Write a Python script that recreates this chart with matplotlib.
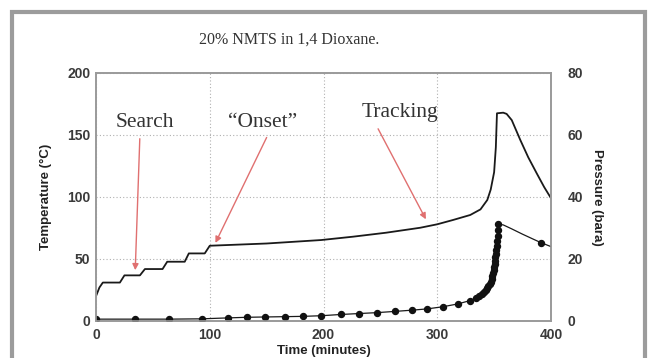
import matplotlib
matplotlib.use("Agg")
import matplotlib.pyplot as plt
from matplotlib.patches import Rectangle

# temperature (left axis, degC)
time_temp = [0, 3, 6, 21, 25, 38.6, 43, 58.5, 62.6, 78, 81.6, 95.6, 100, 150, 198, 226,
             255, 285, 300, 314, 329, 338, 344, 347, 350, 351.5, 352.5, 358, 361, 365.5,
             373, 380, 387.5, 394, 400]
temperature = [20, 27, 31, 31, 36.8, 36.8, 41.9, 41.9, 47.8, 47.8, 54.5, 54.5, 60.7, 62.5, 65.3, 68,
               71.2, 75.2, 78, 81.5, 85.5, 90, 97.6, 106, 120, 140, 167.5, 168, 167, 162,
               146, 132, 119, 108, 99]

# pressure (right axis, bara)
time_pres = [0, 34, 64, 93, 116, 133, 149, 166, 182, 198, 215, 231, 247, 263, 278, 291, 305,
             318, 329, 334, 337, 339, 341, 342.5, 344, 345, 346, 347, 347.8, 348.5, 349,
             349.5, 350, 350.4, 350.8, 351.2, 351.6, 352, 352.4, 352.8, 353.2, 353.6, 353.8,
             358, 365, 375, 385, 391, 400]
pressure = [0.6, 0.6, 0.6, 0.7, 1.0, 1.2, 1.3, 1.4, 1.5, 1.7, 2.1, 2.4, 2.7, 3.1, 3.5, 3.9, 4.6,
            5.5, 6.6, 7.4, 8.2, 8.8, 9.4, 10, 10.6, 11.2, 11.8, 12.6, 13.5, 14.5, 15.5,
            16.5, 17.5, 18.5, 19.5, 20.5, 21.5, 22.8, 24.2, 25.8, 27.5, 29.5, 31.2,
            31, 29.8, 28, 26.3, 25.3, 24]
# samples drawn with a dot marker (indices into the pressure arrays)
dot_idx = list(range(0, 43)) + [47]

# annotations: text, text position, arrow head
labels = ["Search", "\u201cOnset\u201d", "Tracking"]
label_xy = [(43, 160), (146, 160), (267, 168)]
arrow_tail = [(38.5, 147), (150, 148), (248, 155)]
arrow_head = [(34.5, 41), (105, 63), (290, 82)]

tick_col = "#3a3a3a"
spine_col = "#9a9a9a"
arrow_col = "#e07070"

fig = plt.figure(figsize=(6.51, 3.58), dpi=100)
fig.patches.append(Rectangle((12 / 651, -0.05), (645 - 12) / 651, 1.05 - 12 / 358,
                             transform=fig.transFigure, fill=False,
                             edgecolor="#9c9c9c", linewidth=3))
ax = fig.add_axes([96 / 651, 1 - 321 / 358, (551 - 96) / 651, (321 - 73) / 358])
ax2 = ax.twinx()

ax.plot(time_temp, temperature, color="#1a1a1a", linewidth=1.3)
ax2.plot(time_pres, pressure, color="#1a1a1a", linewidth=0.9)
ax2.plot([time_pres[i] for i in dot_idx], [pressure[i] for i in dot_idx],
         "o", color="#111111", markersize=4.3)

ax.set_xlim(0, 400)
ax.set_ylim(0, 200)
ax2.set_ylim(0, 80)
ax.set_xticks([0, 100, 200, 300, 400])
ax.set_yticks([0, 50, 100, 150, 200])
ax2.set_yticks([0, 20, 40, 60, 80])

ax.grid(True, color="#b0b0b0", linestyle=(0, (1, 2)), linewidth=0.8)
ax.set_axisbelow(True)

for a in (ax, ax2):
    for s in a.spines.values():
        s.set_color(spine_col)
        s.set_linewidth(1.2)
    a.tick_params(length=0, colors=tick_col, labelsize=10)
    for t in a.get_xticklabels() + a.get_yticklabels():
        t.set_fontweight("bold")
        t.set_fontfamily("Liberation Sans")
ax.tick_params(axis="x", pad=5)
ax.tick_params(axis="y", pad=4)
ax2.tick_params(axis="y", pad=12)

ax.set_xlabel("Time (minutes)", fontsize=9.5, fontweight="bold", color="#222222",
              family="Liberation Sans", labelpad=2)
ax.set_ylabel("Temperature (\u00b0C)", fontsize=9.5, fontweight="bold", color="#222222",
              family="Liberation Sans", labelpad=11)
ax2.set_ylabel("Pressure (bara)", fontsize=9.5, fontweight="bold", color="#222222",
               family="Liberation Sans", rotation=-90, labelpad=14)

for txt, xy, tail, head in zip(labels, label_xy, arrow_tail, arrow_head):
    ax.text(xy[0], xy[1], txt, ha="center", va="center", fontsize=15.5,
            family="Liberation Serif", color="#333333")
    ax.annotate("", xy=head, xytext=tail,
                arrowprops=dict(arrowstyle="-|>", color=arrow_col, lw=1.0,
                                mutation_scale=9, shrinkA=0, shrinkB=0))

fig.text(289 / 651, 1 - 40 / 358, "20% NMTS in 1,4 Dioxane.", ha="center", va="center",
         fontsize=11.5, family="Liberation Serif", color="#333333")

fig.savefig("out.png", dpi=100)
